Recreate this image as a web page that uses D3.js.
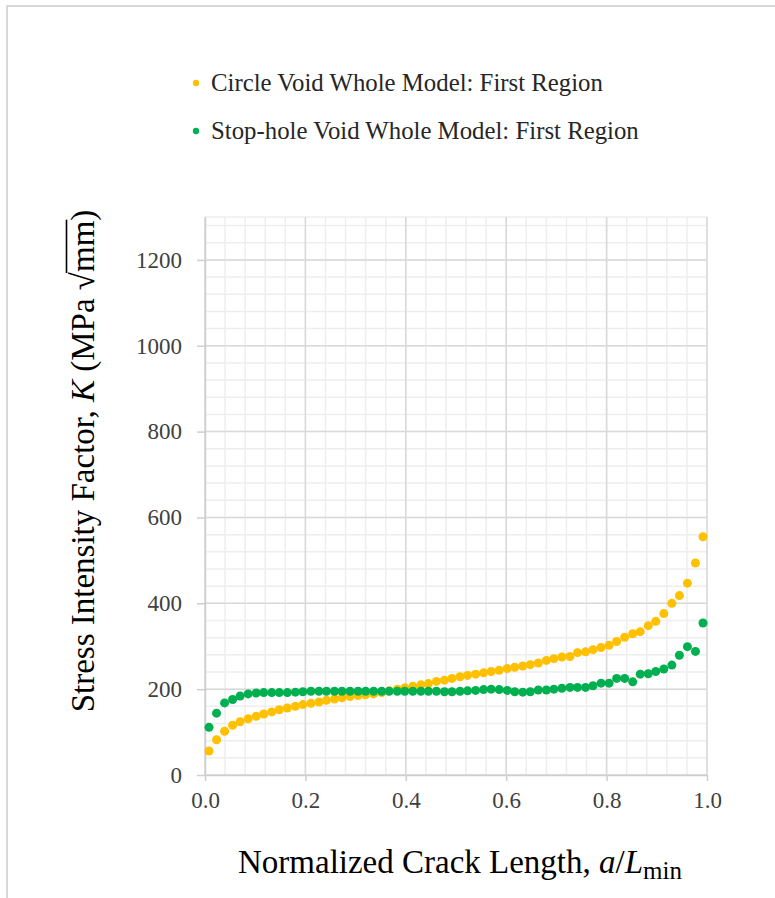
<!DOCTYPE html>
<html>
<head>
<meta charset="utf-8">
<script src="https://cdn.jsdelivr.net/npm/d3@7"></script>
<style>
  body { margin: 0; background: #fff; }
  svg { display: block; }
</style>
</head>
<body>
<script>
// normalized crack length a/Lmin
var crackLength = [0.008, 0.023, 0.039, 0.055, 0.070, 0.086, 0.102, 0.117, 0.133, 0.148,
  0.164, 0.180, 0.195, 0.211, 0.227, 0.242, 0.258, 0.273, 0.289, 0.305,
  0.320, 0.336, 0.352, 0.367, 0.383, 0.398, 0.414, 0.430, 0.445, 0.461,
  0.477, 0.492, 0.508, 0.523, 0.539, 0.555, 0.570, 0.586, 0.602, 0.617,
  0.633, 0.648, 0.664, 0.680, 0.695, 0.711, 0.727, 0.742, 0.758, 0.773,
  0.789, 0.805, 0.820, 0.836, 0.852, 0.867, 0.883, 0.898, 0.914, 0.930,
  0.945, 0.961, 0.977, 0.992];

var circleK = [56, 82, 102, 116, 124, 131, 137, 142, 147, 152,
  156, 160, 164, 167, 170, 174, 177, 180, 183, 185,
  187, 189, 192, 196, 200, 203, 207, 210, 213, 218,
  221, 225, 229, 232, 235, 238, 241, 244, 248, 251,
  254, 257, 261, 267, 271, 275, 276, 285, 287, 292,
  297, 302, 311, 321, 329, 334, 348, 358, 376, 400,
  418, 447, 494, 555];

var stopHoleK = [111, 144, 168, 176, 184, 189, 191, 192, 192, 192,
  192, 193, 194, 195, 195, 195, 195, 195, 195, 195,
  195, 195, 195, 195, 195, 195, 195, 195, 195, 195,
  194, 194, 195, 196, 197, 199, 200, 199, 197, 194,
  193, 194, 198, 198, 200, 202, 204, 204, 204, 208,
  214, 214, 225, 225, 217, 235, 236, 241, 247, 256,
  279, 299, 288, 354];

var seriesNames = ['Circle Void Whole Model: First Region', 'Stop-hole Void Whole Model: First Region'];
var seriesColors = ['#FFC000', '#00B050'];

var xTicks = [0, 0.2, 0.4, 0.6, 0.8, 1.0];
var yTicks = [0, 200, 400, 600, 800, 1000, 1200];

var width = 775, height = 898;
var plotLeft = 205, plotRight = 707, plotTop = 217, plotBottom = 775;
var serif = '"Liberation Serif", "DejaVu Serif", serif';

var svg = d3.select('body').append('svg')
  .attr('width', width)
  .attr('height', height);

// outer chart frame
svg.append('rect')
  .attr('x', 7).attr('y', 6)
  .attr('width', 800).attr('height', 960)
  .attr('fill', 'none')
  .attr('stroke', '#d9d9d9')
  .attr('stroke-width', 2);

var x = d3.scaleLinear().domain([0, 1]).range([plotLeft, plotRight]);
var y = d3.scaleLinear().domain([0, 1300]).range([plotBottom, plotTop]);

var grid = svg.append('g');

// minor grid
grid.selectAll('.vminor')
  .data(d3.range(0, 1.0001, 0.04))
  .enter().append('line')
  .attr('x1', d => x(d)).attr('x2', d => x(d))
  .attr('y1', plotTop).attr('y2', plotBottom)
  .attr('stroke', '#eeeeee').attr('stroke-width', 1.5);

grid.selectAll('.hminor')
  .data(d3.range(0, 1300, 40).concat([1300]))
  .enter().append('line')
  .attr('x1', plotLeft).attr('x2', plotRight)
  .attr('y1', d => y(d)).attr('y2', d => y(d))
  .attr('stroke', '#eeeeee').attr('stroke-width', 1.5);

// major grid
grid.selectAll('.vmajor')
  .data(xTicks)
  .enter().append('line')
  .attr('x1', d => x(d)).attr('x2', d => x(d))
  .attr('y1', plotTop).attr('y2', plotBottom)
  .attr('stroke', '#d9d9d9').attr('stroke-width', 1.5);

grid.selectAll('.hmajor')
  .data(yTicks)
  .enter().append('line')
  .attr('x1', plotLeft).attr('x2', plotRight)
  .attr('y1', d => y(d)).attr('y2', d => y(d))
  .attr('stroke', '#d9d9d9').attr('stroke-width', 1.5);

// axes
var xAxis = d3.axisBottom(x).tickValues(xTicks).tickFormat(d3.format('.1f')).tickSizeInner(6).tickSizeOuter(0).tickPadding(11);
var yAxis = d3.axisLeft(y).tickValues(yTicks).tickFormat(d3.format('d')).tickSizeInner(8).tickSizeOuter(0).tickPadding(15);

var gx = svg.append('g').attr('transform', 'translate(0,' + plotBottom + ')').call(xAxis);
var gy = svg.append('g').attr('transform', 'translate(' + plotLeft + ',0)').call(yAxis);

[gx, gy].forEach(function(g) {
  g.select('.domain').attr('stroke', '#cfcfcf').attr('stroke-width', 1.5);
  g.selectAll('.tick line').attr('stroke', '#cfcfcf').attr('stroke-width', 1.5);
  g.selectAll('.tick text')
    .attr('fill', '#404040')
    .style('font-family', serif)
    .style('font-size', '23px');
});

// points
var plot = svg.append('g');
[circleK, stopHoleK].forEach(function(vals, s) {
  plot.append('g').selectAll('circle')
    .data(vals)
    .enter().append('circle')
    .attr('cx', (d, i) => x(crackLength[i]))
    .attr('cy', d => y(d))
    .attr('r', 4.5)
    .attr('fill', seriesColors[s]);
});

// legend
var legend = svg.append('g');
seriesNames.forEach(function(name, s) {
  var ly = 83 + s * 48;
  legend.append('circle')
    .attr('cx', 196).attr('cy', ly).attr('r', 3.2)
    .attr('fill', seriesColors[s]);
  legend.append('text')
    .attr('x', 211).attr('y', ly + 8)
    .attr('fill', '#262626')
    .style('font-family', serif)
    .style('font-size', '24.8px')
    .text(name);
});

// x axis title
var xt = svg.append('text')
  .attr('x', 460).attr('y', 873)
  .attr('text-anchor', 'middle')
  .attr('fill', '#000')
  .style('font-family', serif)
  .style('font-size', '33px');
xt.append('tspan').text('Normalized Crack Length, ');
xt.append('tspan').style('font-style', 'italic').text('a');
xt.append('tspan').text('/');
xt.append('tspan').style('font-style', 'italic').text('L');
xt.append('tspan').attr('dy', 6).style('font-size', '25px').text('min');

// y axis title
var yg = svg.append('g').attr('transform', 'translate(94,461) rotate(-90)');
var yt = yg.append('text')
  .attr('x', 0).attr('y', 0)
  .attr('fill', '#000')
  .style('font-family', serif)
  .style('font-size', '33px');
yt.append('tspan').text('Stress Intensity Factor, ');
yt.append('tspan').style('font-style', 'italic').text('K');
yt.append('tspan').text(' (MPa \u221A');
yt.append('tspan').text('mm');
yt.append('tspan').text(')');

var len = yt.node().getComputedTextLength();
yt.attr('x', -len / 2);
var full = 'Stress Intensity Factor, K (MPa \u221Amm)';
var rootIdx = full.indexOf('\u221A');
var n = yt.node();
var x0 = n.getEndPositionOfChar(rootIdx).x - 1;
var x1 = n.getEndPositionOfChar(rootIdx + 2).x + 1;
yg.append('line')
  .attr('x1', x0).attr('x2', x1)
  .attr('y1', -27.5).attr('y2', -27.5)
  .attr('stroke', '#000').attr('stroke-width', 1.6);
</script>
</body>
</html>
